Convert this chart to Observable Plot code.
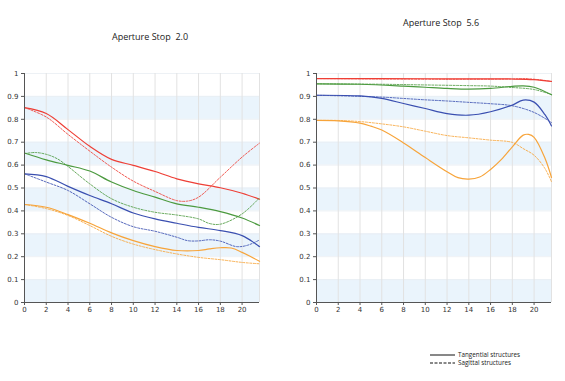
<!DOCTYPE html>
<html><head><meta charset="utf-8">
<script src="https://cdn.jsdelivr.net/npm/d3@7"></script>
<script src="https://cdn.jsdelivr.net/npm/@observablehq/plot@0.6"></script>
<style>
html,body{margin:0;padding:0;background:#fff;}
#wrap{position:relative;width:565px;height:381px;overflow:hidden;font-family:"Open Sans",sans-serif;}
.title{position:absolute;font-size:9px;color:#222;white-space:pre;transform:translateX(-50%);}
.panel{position:absolute;}
#legend{position:absolute;left:428px;top:349px;}
</style></head><body>
<div id="wrap">
  <div class="title" id="t1" style="left:150px;top:30px;"></div>
  <div class="title" id="t2" style="left:441px;top:16px;"></div>
  <div class="panel" id="p1" style="left:0px;top:60px;"></div>
  <div class="panel" id="p2" style="left:290px;top:60px;"></div>
  <div id="legend"></div>
</div>
<script>
const titles = ["Aperture Stop  2.0", "Aperture Stop  5.6"];
const seriesNames = ["red", "green", "blue", "orange"];
const seriesColors = ["#ee3f36", "#4c9a3f", "#3a4fb0", "#f7a43a"];
const legendLabels = ["Tangential structures", "Sagittal structures"];
const xTicks = [0, 2, 4, 6, 8, 10, 12, 14, 16, 18, 20];
const yTicks = [0, 0.1, 0.2, 0.3, 0.4, 0.5, 0.6, 0.7, 0.8, 0.9, 1];
const bandStarts = [0, 0.2, 0.4, 0.6, 0.8];

// Aperture 2.0 — [x, y] points
const f20_red_t = [[0,0.851],[2,0.825],[4,0.755],[6,0.682],[8,0.625],[10,0.599],[12,0.572],[14,0.540],[16,0.518],[18,0.501],[20,0.477],[21.6,0.451]];
const f20_red_s = [[0,0.851],[2,0.81],[4,0.734],[6,0.661],[8,0.591],[10,0.53],[12,0.485],[14,0.445],[15,0.443],[16,0.46],[18,0.547],[20,0.635],[21.6,0.696]];
const f20_green_t = [[0,0.653],[2,0.623],[4,0.599],[6,0.574],[8,0.526],[10,0.489],[12,0.46],[14,0.431],[16,0.416],[18,0.397],[20,0.369],[21.6,0.336]];
const f20_green_s = [[0,0.65],[1,0.655],[2,0.647],[3,0.628],[4,0.594],[6,0.518],[8,0.453],[10,0.416],[12,0.394],[14,0.382],[16,0.365],[17,0.345],[18,0.342],[20,0.387],[21.6,0.457]];
const f20_blue_t = [[0,0.562],[2,0.55],[4,0.507],[6,0.467],[8,0.431],[10,0.391],[12,0.365],[14,0.346],[16,0.328],[18,0.314],[20,0.292],[21.6,0.244]];
const f20_blue_s = [[0,0.562],[2,0.526],[4,0.489],[6,0.431],[8,0.372],[10,0.331],[12,0.311],[14,0.285],[15,0.27],[16,0.269],[17,0.274],[18,0.268],[19.5,0.244],[20.5,0.25],[21.6,0.273]];
const f20_orange_t = [[0,0.428],[2,0.416],[4,0.384],[6,0.346],[8,0.304],[10,0.27],[12,0.244],[14,0.227],[16,0.227],[17,0.234],[18,0.239],[19,0.238],[20,0.219],[21.6,0.18]];
const f20_orange_s = [[0,0.428],[2,0.41],[4,0.38],[6,0.336],[8,0.289],[10,0.255],[12,0.231],[14,0.212],[16,0.197],[18,0.187],[20,0.175],[21.6,0.169]];

// Aperture 5.6
const f56_red_t = [[0,0.978],[10,0.977],[18,0.976],[20,0.973],[21.6,0.965]];
const f56_red_s = [[0,0.978],[10,0.975],[14,0.975],[18,0.976],[19,0.978],[20,0.975],[21.6,0.966]];
const f56_green_t = [[0,0.955],[4,0.953],[8,0.945],[10,0.94],[12,0.935],[14,0.932],[16,0.935],[18,0.944],[19,0.946],[20,0.94],[21.6,0.907]];
const f56_green_s = [[0,0.955],[6,0.953],[10,0.95],[14,0.947],[16,0.945],[18,0.939],[20,0.93],[21.6,0.908]];
const f56_blue_t = [[0,0.905],[4,0.902],[6,0.891],[8,0.869],[10,0.847],[12,0.825],[14,0.818],[16,0.833],[18,0.862],[19,0.884],[20,0.875],[21,0.82],[21.6,0.771]];
const f56_blue_s = [[0,0.905],[6,0.897],[8,0.891],[10,0.885],[12,0.88],[14,0.874],[16,0.868],[18,0.859],[20,0.83],[21.6,0.786]];
const f56_orange_t = [[0,0.795],[2,0.793],[4,0.783],[5,0.77],[6,0.753],[8,0.697],[10,0.633],[12,0.571],[13,0.545],[14,0.539],[15,0.548],[16,0.581],[17,0.625],[18,0.68],[19,0.731],[19.5,0.734],[20,0.721],[21,0.63],[21.6,0.546]];
const f56_orange_s = [[0,0.795],[2,0.795],[4,0.79],[6,0.78],[8,0.767],[10,0.748],[12,0.729],[14,0.719],[16,0.709],[18,0.699],[19,0.672],[20,0.643],[21,0.585],[21.6,0.527]];

const panels = [
  {el:"p1", title:"t1", ml:24, mr:12,
   t:[f20_red_t,f20_green_t,f20_blue_t,f20_orange_t],
   s:[f20_red_s,f20_green_s,f20_blue_s,f20_orange_s]},
  {el:"p2", title:"t2", ml:26, mr:9,
   t:[f56_red_t,f56_green_t,f56_blue_t,f56_orange_t],
   s:[f56_red_s,f56_green_s,f56_blue_s,f56_orange_s]}
];

const fmt = d => String(+d.toFixed(1));

panels.forEach((p, pi) => {
  document.getElementById(p.title).textContent = titles[pi];
  const marks = [
    Plot.rect(bandStarts, {y1: d => d, y2: d => d + 0.1, fill: "#eaf4fc"}),
    Plot.ruleY(yTicks.slice(1), {stroke: "#e8edf2", strokeWidth: 0.8}),
    Plot.ruleX(xTicks.slice(1), {stroke: "#e2e2e2", strokeWidth: 1}),
    Plot.ruleX([21.6], {stroke: "#e2e2e2", strokeWidth: 1})
  ];
  seriesNames.forEach((n, i) => {
    marks.push(Plot.line(p.s[i], {x: d => d[0], y: d => d[1], stroke: seriesColors[i], strokeWidth: 1, strokeDasharray: "2,1.5", curve: "catmull-rom", strokeOpacity: 0.85}));
    marks.push(Plot.line(p.t[i], {x: d => d[0], y: d => d[1], stroke: seriesColors[i], strokeWidth: 1.2, curve: "catmull-rom"}));
  });
  marks.push(Plot.ruleX([0], {stroke: "#555", strokeWidth: 1}));
  marks.push(Plot.ruleY([0], {stroke: "#555", strokeWidth: 1}));
  marks.push(Plot.axisY(yTicks, {tickSize: 3, tickFormat: fmt, fontSize: 7, tickPadding: 3, stroke: "#555", fill: "#333"}));
  marks.push(Plot.axisX(xTicks, {tickSize: 3, tickFormat: d => String(d), fontSize: 7, tickPadding: 2, stroke: "#555", fill: "#333"}));
  const svg = Plot.plot({
    width: p.ml + 235 + p.mr,
    height: 262,
    marginLeft: p.ml, marginRight: p.mr, marginTop: 13, marginBottom: 20,
    x: {domain: [0, 21.6]},
    y: {domain: [0, 1]},
    style: {fontFamily: "'DejaVu Sans', sans-serif", fontSize: "7px", background: "transparent", overflow: "visible"},
    marks
  });
  document.getElementById(p.el).appendChild(svg);
});

// legend
const lg = d3.select("#legend").append("svg").attr("width", 130).attr("height", 20);
legendLabels.forEach((t, i) => {
  const y = 6 + i * 8;
  lg.append("line").attr("x1", 2).attr("x2", 27).attr("y1", y).attr("y2", y)
    .attr("stroke", "#111").attr("stroke-width", 1)
    .attr("stroke-dasharray", i === 1 ? "3,1.5" : null);
  lg.append("text").attr("x", 30).attr("y", y + 2.2).text(t)
    .attr("font-size", 6.3).attr("font-family", "'Open Sans', sans-serif").attr("fill", "#222");
});
</script>
</body></html>
